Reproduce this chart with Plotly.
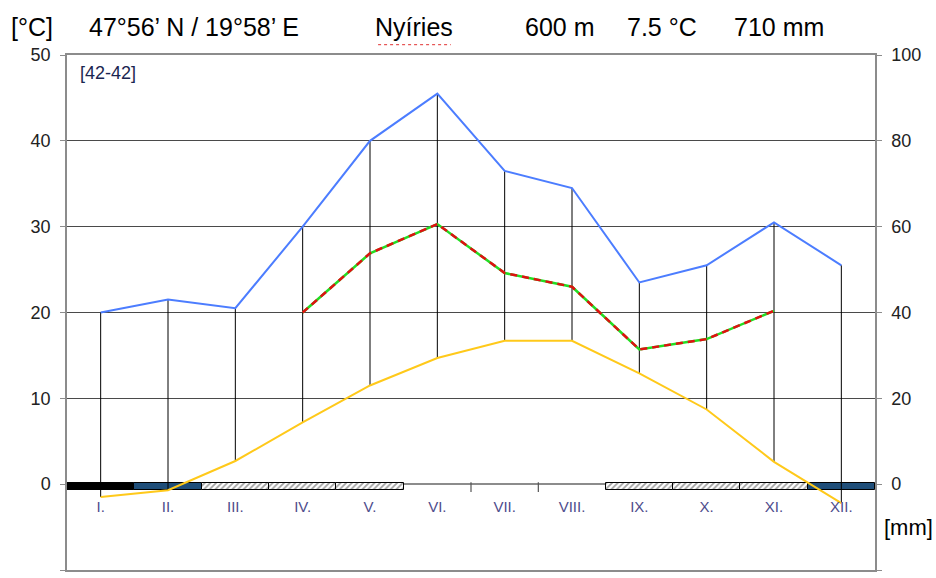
import plotly.graph_objects as go

# ---- data ----
months = ["I.", "II.", "III.", "IV.", "V.", "VI.", "VII.", "VIII.", "IX.", "X.", "XI.", "XII."]
temperature = [-1.5, -0.7, 2.7, 7.2, 11.5, 14.7, 16.7, 16.7, 12.9, 8.7, 2.6, -2.2]          # °C
precipitation = [40, 43, 41, 60, 80, 91, 73, 69, 47, 51, 61, 51]                             # mm
veg_period = [None, None, None, 20.0, 26.9, 30.3, 24.6, 23.0, 15.7, 16.9, 20.2, None]      # °C-scale line
frost_kind = ["solid", "probable", "possible", "possible", "possible", None, None, None,
              "possible", "possible", "possible", "probable"]
title_station = "Nyíries"
title_coords = "47°56’ N / 19°58’ E"
title_alt = "600 m"
title_temp = "7.5 °C"
title_prec = "710 mm"
period_label = "[42-42]"

MM_PER_DEG = 2  # right axis (mm) vs left axis (°C)

x = list(range(12))
FONT = "Liberation Sans, Arial, sans-serif"

fig = go.Figure()

# frost bars along zero line
bar_colors = {"solid": "#000000", "probable": "#1F4E79", "possible": "#FFFFFF"}
bar_shapes = {"solid": "", "probable": "", "possible": "/"}
bx, bcol, bshape = [], [], []
for i, k in enumerate(frost_kind):
    if k is None:
        continue
    bx.append(i)
    bcol.append(bar_colors[k])
    bshape.append(bar_shapes[k])
fig.add_trace(go.Bar(
    x=bx, y=[0.82] * len(bx), base=-0.7, width=1.0,
    marker=dict(color=bcol, line=dict(color="#000000", width=1),
                pattern=dict(shape=bshape, fillmode="overlay", fgcolor="#000000",
                             bgcolor=bcol, size=4, solidity=0.45)),
    hoverinfo="skip", showlegend=False))

# tick marks at boundaries without bars
tick_x = [i + 0.5 for i in range(11) if frost_kind[i] is None and frost_kind[i + 1] is None]
fig.add_trace(go.Scatter(
    x=tick_x, y=[-0.35] * len(tick_x), mode="markers",
    marker=dict(symbol="line-ns", size=7, line=dict(color="#555555", width=1.2)),
    hoverinfo="skip", showlegend=False))

# vertical connectors between temperature and precipitation
vx, vy = [], []
for i in x:
    vx += [i, i, None]
    vy += [temperature[i], precipitation[i] / MM_PER_DEG, None]
fig.add_trace(go.Scatter(x=vx, y=vy, mode="lines",
                         line=dict(color="#000000", width=1),
                         hoverinfo="skip", showlegend=False))

# temperature
fig.add_trace(go.Scatter(x=x, y=temperature, mode="lines",
                         line=dict(color="#FFC91A", width=2),
                         showlegend=False))
# precipitation (right axis)
fig.add_trace(go.Scatter(x=x, y=precipitation, mode="lines", yaxis="y2",
                         line=dict(color="#4C7DFF", width=2),
                         showlegend=False))
# vegetation period line: green under red dashed
fig.add_trace(go.Scatter(x=x, y=veg_period, mode="lines",
                         line=dict(color="#22DD22", width=2.5),
                         showlegend=False))
fig.add_trace(go.Scatter(x=x, y=veg_period, mode="lines",
                         line=dict(color="#E01010", width=2.5, dash="7px,5px"),
                         showlegend=False))

# month labels just below zero line
fig.add_trace(go.Scatter(x=x, y=[-2.8] * 12, mode="text", text=months,
                         textfont=dict(family=FONT, size=15, color="#4E4C8C"),
                         hoverinfo="skip", showlegend=False))

fig.update_layout(
    width=936, height=578,
    margin=dict(l=67, r=61, t=55, b=8),
    paper_bgcolor="white", plot_bgcolor="white",
    bargap=0,
    font=dict(family=FONT, size=18, color="#222222"),
    xaxis=dict(range=[-0.5, 11.5], showticklabels=False, showgrid=False,
               zeroline=False, showline=True, linecolor="#8C8C8C", linewidth=1.5,
               mirror=True, ticks=""),
    yaxis=dict(range=[-10, 50], dtick=10, showgrid=True, gridcolor="#4A4A4A",
               gridwidth=1, zeroline=True, zerolinecolor="#8C8C8C", zerolinewidth=1.5,
               showline=True, linecolor="#8C8C8C", linewidth=1.5,
               ticks="outside", ticklen=5, tickcolor="#8C8C8C",
               ticklabelstandoff=6,
               tickfont=dict(family=FONT, size=18, color="#222222")),
    yaxis2=dict(range=[-20, 100], dtick=20, overlaying="y", side="right",
                showgrid=False, zeroline=False, showline=True, linecolor="#8C8C8C",
                linewidth=1.5, ticks="outside", ticklen=5, tickcolor="#8C8C8C",
                ticklabelstandoff=6,
                tickfont=dict(family=FONT, size=18, color="#222222")),
)

title_font = dict(family=FONT, size=25, color="#000000")
ann = [
    dict(text="[°C]", x=-0.043, y=1.054, font=title_font),
    dict(text=title_coords, x=0.157, y=1.054, font=title_font),
    dict(text=title_station, x=0.429, y=1.054, font=title_font),
    dict(text=title_alt, x=0.610, y=1.054, font=title_font),
    dict(text=title_temp, x=0.736, y=1.054, font=title_font),
    dict(text=title_prec, x=0.881, y=1.054, font=title_font),
    dict(text="[mm]", x=1.041, y=0.082, font=dict(family=FONT, size=22, color="#000000")),
    dict(text=period_label, x=0.0137, y=0.965, xanchor="left",
         font=dict(family=FONT, size=18, color="#1A2550")),
]
for a in ann:
    a.setdefault("xanchor", "center")
    fig.add_annotation(xref="paper", yref="paper", showarrow=False, yanchor="middle", **a)

# spell-check squiggle under the station name (decorative)
fig.add_shape(type="line", xref="paper", yref="paper", x0=0.385, x1=0.475, y0=1.02, y1=1.02,
              line=dict(color="#E03030", width=1, dash="dot"))

fig.write_html("out.html", config={"displayModeBar": False},
               post_script="document.body.style.margin='0';")
